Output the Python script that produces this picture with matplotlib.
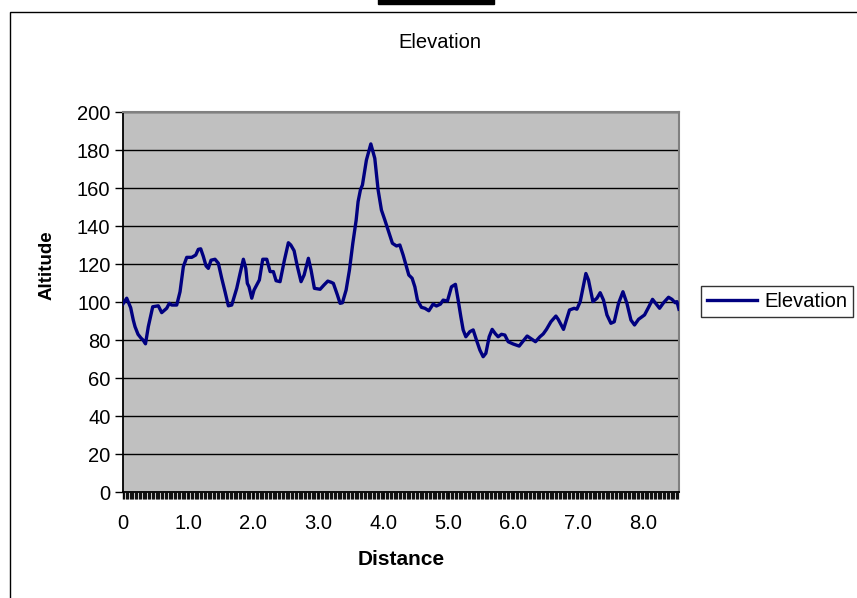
import matplotlib
matplotlib.use('Agg')
import matplotlib.pyplot as plt
import matplotlib.patches as patches
import numpy as np

# distance and altitude
distance = [0.0, 0.057, 0.118, 0.158, 0.185, 0.231, 0.277, 0.308, 0.346, 0.389,
            0.457, 0.543, 0.595, 0.672, 0.712, 0.749, 0.826, 0.877, 0.928, 0.980,
            1.057, 1.118, 1.158, 1.195, 1.235, 1.277, 1.312, 1.354, 1.415, 1.466,
            1.518, 1.569, 1.620, 1.672, 1.749, 1.800, 1.851, 1.888, 1.912, 1.938,
            1.980, 2.015, 2.057, 2.097, 2.149, 2.211, 2.262, 2.312, 2.354, 2.415,
            2.482, 2.543, 2.580, 2.631, 2.682, 2.738, 2.785, 2.851, 2.892, 2.943,
            3.031, 3.092, 3.149, 3.200, 3.235, 3.297, 3.338, 3.374, 3.431, 3.482,
            3.534, 3.585, 3.615, 3.651, 3.682, 3.743, 3.811, 3.872, 3.923, 3.974,
            4.026, 4.077, 4.143, 4.205, 4.257, 4.308, 4.358, 4.395, 4.446, 4.488,
            4.528, 4.589, 4.642, 4.703, 4.769, 4.820, 4.882, 4.923, 4.989, 5.051,
            5.112, 5.154, 5.195, 5.231, 5.272, 5.334, 5.385, 5.435, 5.488, 5.538,
            5.580, 5.631, 5.677, 5.728, 5.769, 5.820, 5.872, 5.923, 6.000, 6.092,
            6.154, 6.215, 6.282, 6.343, 6.411, 6.462, 6.512, 6.580, 6.657, 6.692,
            6.774, 6.866, 6.938, 6.980, 7.031, 7.072, 7.118, 7.158, 7.226, 7.288,
            7.338, 7.389, 7.442, 7.503, 7.554, 7.620, 7.688, 7.749, 7.811, 7.866,
            7.928, 8.020, 8.082, 8.143, 8.251, 8.312, 8.389, 8.442, 8.492, 8.518,
            8.549]
altitude = [99, 102, 97, 90.5, 87, 83, 81, 80, 78, 87,
            97.5, 98, 94.4, 96.7, 99.3, 98.4, 98.4, 105.4, 118.6, 123.5,
            123.5, 124.7, 127.7, 128, 124, 119, 117.7, 122, 122.5, 120.4,
            112.5, 105.4, 98, 98.4, 107.2, 115, 122.5, 117.7, 109.8, 108,
            102, 106.3, 109, 111.6, 122.5, 122.5, 116, 116, 111.2, 110.7,
            122, 131.2, 130, 127, 118.6, 110.7, 114.2, 123, 116.8, 107.2,
            106.7, 109, 111, 110.4, 109.8, 103.7, 99.3, 99.6, 106.3, 116.8,
            130.9, 143, 152.8, 159, 161.6, 174.7, 183.2, 175.6, 159, 148.4,
            143.2, 137.9, 130.9, 129.5, 130, 124.7, 118.6, 114.2, 112.5, 108,
            101, 97.2, 96.7, 95.4, 98.9, 97.9, 98.9, 101, 100.5, 108,
            109.3, 101, 92.3, 85.3, 81.7, 84.4, 85.3, 80, 74.7, 71.2,
            73, 81.7, 85.6, 83.2, 81.7, 83, 82.6, 79.1, 77.9, 76.8,
            79.5, 82.1, 80.5, 79.1, 81.7, 83.2, 85.6, 89.6, 92.6, 90.9,
            85.6, 95.8, 96.7, 96.2, 100.2, 107.2, 115, 111.6, 100.2, 102,
            104.9, 101, 93.2, 88.8, 89.6, 99.3, 105.4, 99.3, 90.5, 87.9,
            90.9, 93.2, 97.2, 101.4, 96.7, 99.6, 102.5, 101.4, 99.6, 100.2,
            96.2]

x_ticks = [0, 1, 2, 3, 4, 5, 6, 7, 8]
x_labels = ['0', '1.0', '2.0', '3.0', '4.0', '5.0', '6.0', '7.0', '8.0']
y_ticks = [0, 20, 40, 60, 80, 100, 120, 140, 160, 180, 200]

plt.rcParams['font.family'] = 'Liberation Sans'
plt.rcParams['font.size'] = 14.5

W, H = 857, 598
fig = plt.figure(figsize=(W / 100, H / 100), dpi=100)
ax = fig.add_axes([123 / W, 1 - 492 / H, (679 - 123) / W, (492 - 112) / H])
ax.set_facecolor('#C0C0C0')

ax.plot(distance, altitude, color='#000080', lw=2.4, label='Elevation', zorder=3)

ax.set_xlim(0, 8.55)
ax.set_ylim(0, 200)
ax.set_yticks(y_ticks)
ax.set_xticks(x_ticks)
ax.set_xticklabels(x_labels)
ax.set_xticks(np.arange(0, 8.55, 0.02), minor=True)
ax.yaxis.grid(True, color='black', lw=1.0)
ax.set_axisbelow(True)

ax.tick_params(axis='y', length=6, width=1, pad=3, labelsize=14.5)
ax.tick_params(axis='x', which='major', length=5, width=1, pad=11, labelsize=14.5)
ax.tick_params(axis='x', which='minor', length=5, width=0.9, color='#111111')

for s in ['top', 'right']:
    ax.spines[s].set_color('#808080')
    ax.spines[s].set_linewidth(1.5)
for s in ['left', 'bottom']:
    ax.spines[s].set_color('black')
    ax.spines[s].set_linewidth(1.3)

ax.set_xlabel('Distance', fontweight='bold', fontsize=15, labelpad=12)
fig.text(47 / W, 1 - 265 / H, 'Altitude', rotation=90, ha='center', va='center',
         fontweight='bold', fontsize=13.5)
fig.text(440 / W, 1 - 43 / H, 'Elevation', ha='center', va='center', fontsize=14.5)

leg = ax.legend(loc='center left', bbox_to_anchor=(701 / W, 1 - 301.5 / H),
                bbox_transform=fig.transFigure, frameon=True, fancybox=False,
                edgecolor='black', handlelength=2.5, handletextpad=0.35,
                borderpad=0.3, borderaxespad=0, fontsize=14.5)
leg.get_frame().set_linewidth(1.0)
leg.get_lines()[0].set_linewidth(2.4)

# outer chart frame and the bar at top
fig.patches.append(patches.Rectangle((10 / W, -0.1), 2, 1 - 12 / H + 0.1, fill=False,
                                     edgecolor='black', lw=1.0, transform=fig.transFigure))
fig.patches.append(patches.Rectangle((378 / W, 1 - 4 / H), (494 - 378) / W, 0.02,
                                     facecolor='black', edgecolor='black',
                                     transform=fig.transFigure))

plt.savefig('out.png', dpi=100)
